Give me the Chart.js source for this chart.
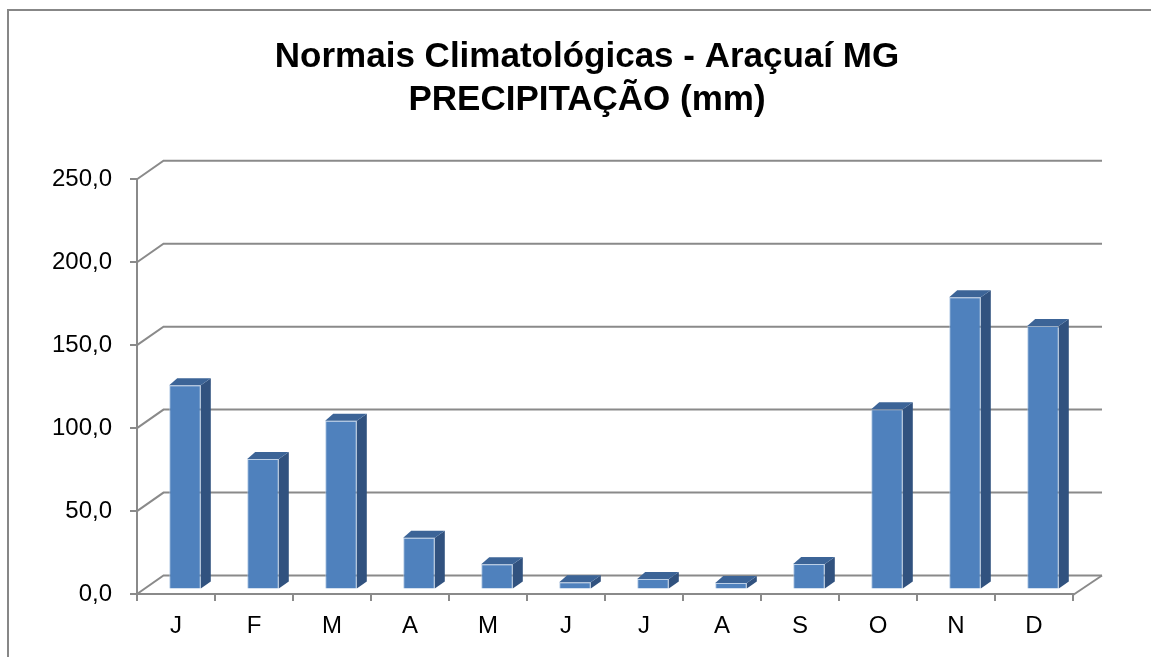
<!DOCTYPE html>
<html>
<head>
<meta charset="utf-8">
<script src="https://cdn.jsdelivr.net/npm/chart.js@4.4.0/dist/chart.umd.min.js"></script>
<style>
html,body{margin:0;padding:0;background:#fff;overflow:hidden}
#wrap{position:relative;width:1151px;height:657px}
</style>
</head>
<body>
<div id="wrap"><canvas id="c"></canvas></div>
<script>
// ---- data ----
const titleLines = ['Normais Climatológicas - Araçuaí MG', 'PRECIPITAÇÃO (mm)'];
const months = ['J', 'F', 'M', 'A', 'M', 'J', 'J', 'A', 'S', 'O', 'N', 'D'];
const precipitation = [123.2, 78.6, 101.7, 31.2, 15.2, 4.3, 6.3, 3.9, 15.4, 108.6, 176.2, 158.9];
const yMin = 0;
const yMax = 250;
const yStep = 50;

// ---- style ----
const FONT = '"Liberation Sans", Arial, sans-serif';
const FRONT = '#4F81BD', TOP = '#3C6497', SIDE = '#31527F', GRID = '#8A8A8A';
const WALL_DX = 26.5, WALL_DY = 18.5, WALL_DX_RIGHT = 29;
const BAR_DX = 9, BAR_DY = 4.5;
const FACE_DXL = 8, FACE_DXR = 10, FACE_DY = 7;

const excel3d = {
  id: 'excel3d',
  beforeDatasetsDraw(chart) {
    const {ctx, chartArea: a, scales: {y}} = chart;
    ctx.save();
    ctx.strokeStyle = GRID;
    ctx.lineWidth = 2;
    y.ticks.forEach(t => {
      const yf = y.getPixelForValue(t.value);
      const yb = yf - WALL_DY;
      ctx.beginPath();
      ctx.moveTo(a.left, yf);
      ctx.lineTo(a.left + WALL_DX, yb);
      ctx.lineTo(a.right + WALL_DX_RIGHT, yb);
      ctx.stroke();
    });
    const y0 = y.getPixelForValue(0);
    ctx.beginPath();
    ctx.moveTo(a.right, y0 + 1);
    ctx.lineTo(a.right + WALL_DX_RIGHT, y0 - WALL_DY);
    ctx.stroke();
    ctx.restore();
    ctx.save();
    ctx.translate(BAR_DX, -BAR_DY);
  },
  afterDatasetsDraw(chart) {
    const ctx = chart.ctx;
    chart.getDatasetMeta(0).data.forEach(bar => {
      const {x, y, base, width} = bar.getProps(['x', 'y', 'base', 'width'], true);
      const l = x - width / 2, r = x + width / 2;
      ctx.fillStyle = SIDE;
      ctx.beginPath();
      ctx.moveTo(r, y);
      ctx.lineTo(r + FACE_DXR, y - FACE_DY);
      ctx.lineTo(r + FACE_DXR, base - FACE_DY);
      ctx.lineTo(r, base);
      ctx.closePath();
      ctx.fill();
      ctx.fillStyle = TOP;
      ctx.beginPath();
      ctx.moveTo(l, y);
      ctx.lineTo(l + FACE_DXL, y - FACE_DY);
      ctx.lineTo(r + FACE_DXR, y - FACE_DY);
      ctx.lineTo(r, y);
      ctx.closePath();
      ctx.fill();
    });
    ctx.restore();
  },
  afterDraw(chart) {
    const ctx = chart.ctx;
    ctx.save();
    // outer frame
    ctx.fillStyle = '#878787';
    ctx.fillRect(7, 9, 2, 657 - 9);
    ctx.fillRect(7, 9, 1151 - 7, 2);
    // title
    ctx.fillStyle = '#000';
    ctx.font = 'bold 35px ' + FONT;
    ctx.textAlign = 'center';
    ctx.textBaseline = 'alphabetic';
    ctx.fillText(titleLines[0], 587, 67);
    ctx.fillText(titleLines[1], 587, 110);
    ctx.restore();
  }
};

Chart.defaults.font.family = FONT;

new Chart(document.getElementById('c'), {
  type: 'bar',
  data: {
    labels: months,
    datasets: [{
      data: precipitation,
      backgroundColor: FRONT,
      borderColor: 'rgba(160,188,222,0.7)',
      borderWidth: 1,
      categoryPercentage: 1,
      barPercentage: 0.405,
      clip: false
    }]
  },
  options: {
    responsive: true,
    maintainAspectRatio: false,
    devicePixelRatio: 1,
    animation: false,
    layout: {padding: {top: 179.3, right: 78, bottom: 0, left: 0}},
    plugins: {legend: {display: false}, tooltip: {enabled: false}, title: {display: false}},
    scales: {
      x: {
        grid: {drawOnChartArea: false, drawTicks: true, tickLength: 7, color: GRID, lineWidth: 2, offset: true},
        border: {display: true, color: GRID, width: 2},
        ticks: {color: '#000', font: {size: 24}, padding: 11, maxRotation: 0, autoSkip: false},
        afterFit(s) { s.height = 63; }
      },
      y: {
        min: yMin,
        max: yMax,
        grid: {drawOnChartArea: false, drawTicks: true, tickLength: 7, color: GRID, lineWidth: 2},
        border: {display: true, color: GRID, width: 2},
        ticks: {
          stepSize: yStep,
          color: '#000',
          font: {size: 24},
          padding: 18,
          callback: v => Number(v).toFixed(1).replace('.', ',')
        },
        afterFit(s) { s.width = 137; }
      }
    }
  },
  plugins: [excel3d]
});
</script>
</body>
</html>
